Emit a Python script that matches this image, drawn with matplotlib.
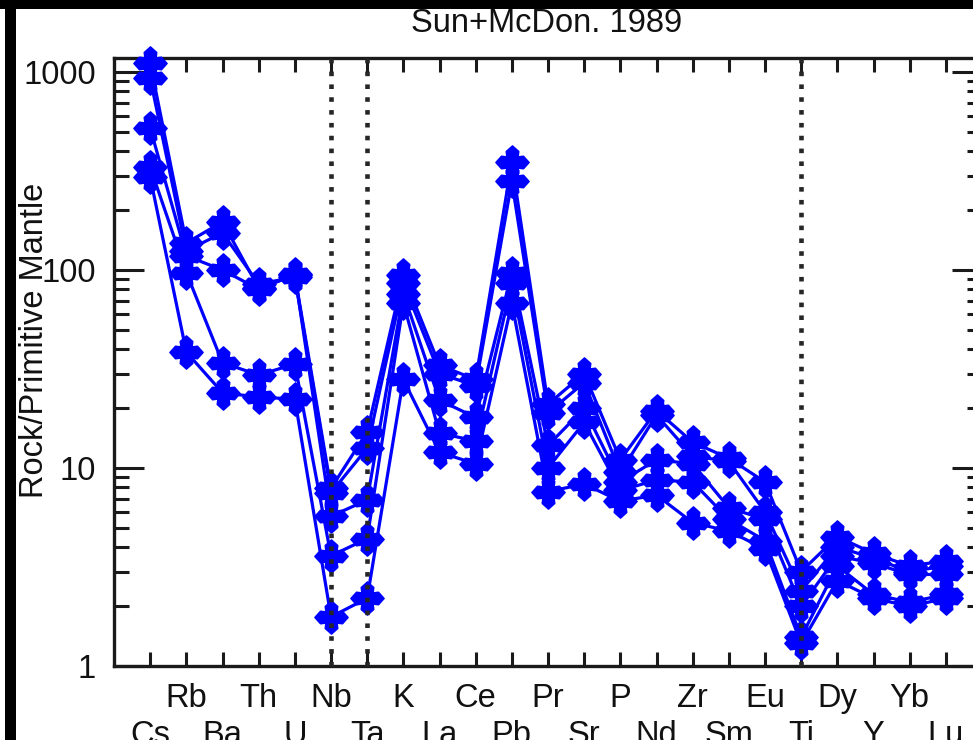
import matplotlib
matplotlib.use("Agg")
import matplotlib.pyplot as plt
from matplotlib.path import Path
from matplotlib.patches import Rectangle
from matplotlib.ticker import LogLocator, NullFormatter, FixedLocator

plt.rcParams['font.family'] = ['Liberation Sans', 'DejaVu Sans']

elements = ["Cs", "Rb", "Ba", "Th", "U", "Nb", "Ta", "K", "La", "Ce", "Pb", "Pr",
            "Sr", "P", "Nd", "Zr", "Sm", "Eu", "Ti", "Dy", "Y", "Yb", "Lu"]

sample1 = [1110, 137, 175, 81, 94, 7.9, 15.2, 94, 33, 28, 350, 21, 30, 11, 19.5, 13.5, 11.2, 8.5, 3.0, 4.5, 3.7, 3.2, 3.4]
sample2 = [930, 125, 154, 85, 92, 7.5, 12.6, 86, 30, 26, 280, 19, 27, 9.5, 18.5, 11.5, 10.8, 6.0, 2.4, 4.0, 3.5, 3.0, 3.2]
sample3 = [521, 118, 100, 80, 95, 5.7, 6.9, 76, 22, 18, 97, 13, 20, 8.5, 11, 10.5, 6.3, 5.5, 2.0, 3.6, 3.3, 2.9, 2.9]
sample4 = [331, 97, 34, 29.5, 33.5, 3.6, 4.4, 68, 15, 13.7, 86, 10, 17, 7.7, 8.7, 8.5, 5.5, 4.3, 1.4, 3.2, 2.3, 2.1, 2.3]
sample5 = [295, 38.5, 24, 22.8, 22.3, 1.77, 2.2, 28, 12, 10.5, 68, 7.6, 8.3, 6.8, 7.3, 5.3, 4.8, 3.9, 1.3, 2.7, 2.2, 2.0, 2.2]
samples = [sample1, sample2, sample3, sample4, sample5]

dotted_at = ["Nb", "Ta", "Ti"]
title = "Sun+McDon. 1989"
ylabel = "Rock/Primitive Mantle"

W, H = 973, 740
FS = 23.5
fig = plt.figure(figsize=(W / 100, H / 100), dpi=100)
fig.patch.set_facecolor("white")

L, R, B, T = 114, 982, 666, 58
ax = fig.add_axes([L / W, 1 - B / H, (R - L) / W, (B - T) / H])
ax.set_yscale("log")
ax.set_xlim(0, 24)
ax.set_ylim(1, 1177)

# marker: notched diamond / cross
verts = [(0, 1), (0.38, 0.66), (0.34, 0.34), (0.66, 0.38), (1, 0), (0.66, -0.38),
         (0.34, -0.34), (0.38, -0.66), (0, -1), (-0.38, -0.66), (-0.34, -0.34),
         (-0.66, -0.38), (-1, 0), (-0.66, 0.38), (-0.34, 0.34), (-0.38, 0.66), (0, 1)]
codes = [Path.MOVETO] + [Path.LINETO] * (len(verts) - 2) + [Path.CLOSEPOLY]
mk = Path(verts, codes)

xs = list(range(1, len(elements) + 1))
for s in samples:
    ax.plot(xs, s, color="#0000FF", lw=2.3, marker=mk, ms=24, mec="#0000FF",
            mfc="#0000FF", mew=1.0, zorder=3, clip_on=False)

for el in dotted_at:
    xi = elements.index(el) + 1
    ax.plot([xi, xi], [1, 1177], color="#262626", lw=3.3, linestyle=(0, (1, 1.8)),
            zorder=5, clip_on=False)

for sp in ax.spines.values():
    sp.set_linewidth(2.4)
    sp.set_color("#1a1a1a")

ax.xaxis.set_major_locator(FixedLocator(xs))
ax.set_xticklabels([])
ax.tick_params(axis="x", which="both", direction="in", top=True, bottom=True,
               length=10, width=2.2, color="#1a1a1a")
ax.yaxis.set_minor_locator(LogLocator(base=10, subs=range(2, 10), numticks=10))
ax.yaxis.set_minor_formatter(NullFormatter())
ax.set_yticks([1, 10, 100, 1000])
ax.set_yticklabels(["1", "10", "100", "1000"])
ax.tick_params(axis="y", which="major", direction="in", left=True, right=True,
               length=21.5, width=2.2, color="#1a1a1a", labelsize=FS, pad=13,
               labelcolor="#111111")
ax.tick_params(axis="y", which="minor", direction="in", left=True, right=True,
               length=10.8, width=2.2, color="#1a1a1a")

xt = ax.get_xaxis_transform()
for i, el in enumerate(elements):
    yy = (B - 707) / (B - T) if i % 2 == 1 else (B - 744) / (B - T)
    ax.text(i + 1, yy, el, transform=xt, ha="center", va="baseline",
            fontsize=FS, color="#111111", clip_on=False)

fig.text(547 / W, 1 - 32 / H, title, ha="center", va="baseline", fontsize=FS, color="#111111")
fig.text(35 / W, 1 - 340 / H, ylabel, ha="center", va="center", rotation=90,
         fontsize=FS, color="#111111")

# black frame bands
fig.patches.append(Rectangle((0, 1 - 9 / H), 1, 9 / H, transform=fig.transFigure,
                             facecolor="black", edgecolor="none", zorder=10))
fig.patches.append(Rectangle((5 / W, 0), 11 / W, 1, transform=fig.transFigure,
                             facecolor="black", edgecolor="none", zorder=10))

fig.savefig("out.png", dpi=100, facecolor="white")
